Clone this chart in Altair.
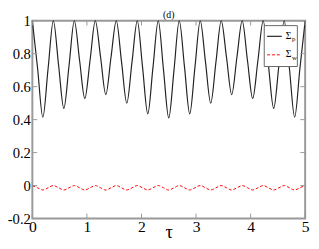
import altair as alt
import pandas as pd
import numpy as np

# ---- data ----
x_ticks = [0, 1, 2, 3, 4, 5]
y_ticks = [-0.2, 0, 0.2, 0.4, 0.6, 0.8, 1.0]

# Sigma_p sampled at peak / quarter / dip / quarter of each of 13 periods
sigma_p = [
    1.0, 0.71, 0.415, 0.71,
    1.0, 0.73, 0.468, 0.73,
    1.0, 0.76, 0.528, 0.76,
    1.0, 0.78, 0.552, 0.78,
    1.0, 0.75, 0.500, 0.75,
    1.0, 0.72, 0.435, 0.72,
    1.0, 0.70, 0.410, 0.70,
    1.0, 0.72, 0.435, 0.72,
    1.0, 0.75, 0.500, 0.75,
    1.0, 0.78, 0.552, 0.78,
    1.0, 0.76, 0.528, 0.76,
    1.0, 0.73, 0.468, 0.73,
    1.0, 0.71, 0.415, 0.71,
    1.0,
]
sigma_w = [
    0.0, -0.0135, -0.027, -0.0135,
    0.0, -0.0135, -0.027, -0.0135,
    0.0, -0.0135, -0.027, -0.0135,
    0.0, -0.0135, -0.027, -0.0135,
    0.0, -0.0135, -0.027, -0.0135,
    0.0, -0.0135, -0.027, -0.0135,
    0.0, -0.0135, -0.027, -0.0135,
    0.0, -0.0135, -0.027, -0.0135,
    0.0, -0.0135, -0.027, -0.0135,
    0.0, -0.0135, -0.027, -0.0135,
    0.0, -0.0135, -0.027, -0.0135,
    0.0, -0.0135, -0.027, -0.0135,
    0.0, -0.0135, -0.027, -0.0135,
    0.0,
]
tau = list(np.round(np.arange(len(sigma_p)) * 5 / (len(sigma_p) - 1), 5))

W, H = 280, 203
SERIF = "Liberation Serif"
FRAME = "#999999"

df = pd.DataFrame({"tau": tau, "p": sigma_p, "w": sigma_w})
xs = alt.Scale(domain=[0, 5], nice=False, zero=False)
ys = alt.Scale(domain=[-0.2, 1.0], nice=False, zero=False)

ylab = "datum.value < 0 ? '-' + format(-datum.value, '~g') : format(datum.value, '~g')"

x_axis = alt.Axis(values=x_ticks, title="τ", labelFontSize=16, labelPadding=0,
                  labelOverlap=False, labelFlush=False, labelBound=False,
                  titleFontSize=19, titleBaseline="alphabetic", titleY=19,
                  titleFontWeight="normal",
                  labelFont=SERIF, titleFont=SERIF, format="~g")
y_axis = alt.Axis(values=y_ticks, title=None, labelFontSize=15, labelPadding=2,
                  labelOverlap=False, labelFlush=False, labelBound=False,
                  labelFont=SERIF, labelExpr=ylab)

base = alt.Chart(df)
line_p = base.mark_line(color="#222222", strokeWidth=1.2, interpolate="monotone").encode(
    x=alt.X("tau:Q", scale=xs, axis=x_axis),
    y=alt.Y("p:Q", scale=ys, axis=y_axis),
)
line_w = base.mark_line(color="#ff0000", strokeWidth=1, strokeDash=[3, 2],
                        interpolate="monotone").encode(
    x=alt.X("tau:Q", scale=xs, axis=x_axis), y=alt.Y("w:Q", scale=ys, axis=y_axis))

ydf = pd.DataFrame({"v": y_ticks})
xdf = pd.DataFrame({"v": x_ticks})
tick_style = dict(color=FRAME, strokeWidth=1)
yt_left = alt.Chart(ydf).mark_rule(**tick_style).encode(
    y=alt.Y("v:Q", scale=ys, axis=y_axis), x=alt.value(0), x2=alt.value(5))
yt_right = alt.Chart(ydf).mark_rule(**tick_style).encode(
    y=alt.Y("v:Q", scale=ys, axis=y_axis), x=alt.value(W - 5), x2=alt.value(W))
xt_bot = alt.Chart(xdf).mark_rule(**tick_style).encode(
    x=alt.X("v:Q", scale=xs, axis=x_axis), y=alt.value(H), y2=alt.value(H - 5))
xt_top = alt.Chart(xdf).mark_rule(**tick_style).encode(
    x=alt.X("v:Q", scale=xs, axis=x_axis), y=alt.value(0), y2=alt.value(5))

one = pd.DataFrame({"a": [0]})
box = alt.Chart(one).mark_rect(fill="white", stroke="#666666", strokeWidth=1).encode(
    x=alt.value(238), x2=alt.value(272), y=alt.value(5), y2=alt.value(47))
leg_p = alt.Chart(one).mark_rule(color="#222222", strokeWidth=1.2).encode(
    x=alt.value(241), x2=alt.value(256), y=alt.value(16))
leg_w = alt.Chart(one).mark_rule(color="#ff0000", strokeWidth=1, strokeDash=[3, 2]).encode(
    x=alt.value(241), x2=alt.value(256), y=alt.value(35))
txt = dict(font=SERIF, color="black", baseline="alphabetic", align="left")
sig1 = alt.Chart(one).mark_text(text="Σ", fontSize=10, **txt).encode(
    x=alt.value(260), y=alt.value(19))
sub1 = alt.Chart(one).mark_text(text="p", fontSize=7, **txt).encode(
    x=alt.value(266.5), y=alt.value(21))
sig2 = alt.Chart(one).mark_text(text="Σ", fontSize=10, **txt).encode(
    x=alt.value(260), y=alt.value(37))
sub2 = alt.Chart(one).mark_text(text="w", fontSize=7, **txt).encode(
    x=alt.value(266.5), y=alt.value(40))
title = alt.Chart(one).mark_text(text="(d)", fontSize=10, font=SERIF, color="black",
                                 baseline="alphabetic", align="center").encode(
    x=alt.value(W / 2), y=alt.value(-3))

chart = alt.layer(
    line_p, line_w, yt_left, yt_right, xt_bot, xt_top,
    box, leg_p, leg_w, sig1, sub1, sig2, sub2, title
).properties(
    width=W, height=H,
    autosize=alt.AutoSizeParams(type="none"),
    padding={"left": 25, "top": 10, "right": 6, "bottom": 20},
).configure_view(
    stroke=FRAME, strokeWidth=2
).configure_axis(
    domain=False, ticks=False, grid=False, labelColor="black", titleColor="black",
    labelOverlap=False
)

chart.save("out.html", embed_options={"renderer": "svg", "actions": False})
